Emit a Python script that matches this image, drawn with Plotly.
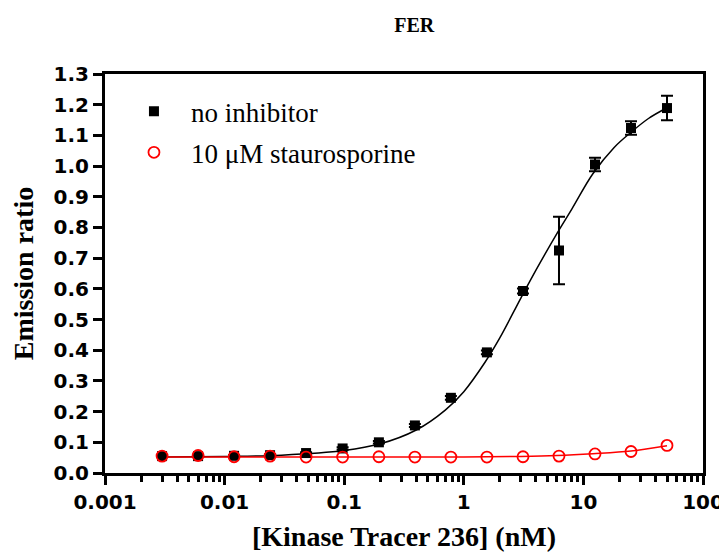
import plotly.graph_objects as go

# --- data ---
conc = [0.003, 0.006, 0.012, 0.024, 0.048, 0.097, 0.195, 0.39, 0.78, 1.56, 3.125, 6.25, 12.5, 25, 50]
no_inhibitor = [0.055, 0.055, 0.056, 0.058, 0.065, 0.080, 0.100, 0.155, 0.245, 0.393, 0.593, 0.725, 1.005, 1.124, 1.189]
no_inhibitor_err = [0.003, 0.003, 0.003, 0.003, 0.003, 0.004, 0.004, 0.005, 0.006, 0.006, 0.008, 0.11, 0.022, 0.022, 0.04]
stauro = [0.055, 0.057, 0.053, 0.055, 0.052, 0.052, 0.053, 0.052, 0.052, 0.052, 0.053, 0.055, 0.062, 0.070, 0.090]

# fitted curves
fit_x = [0.003, 0.01, 0.03, 0.1, 0.2, 0.4, 0.7, 1.0, 1.5, 2.0, 3.0, 4.0, 6.0, 8.0, 12.0, 18.0, 25.0, 35.0, 50.0]
fit_black = [0.052, 0.054, 0.058, 0.073, 0.095, 0.14, 0.205, 0.265, 0.36, 0.44, 0.57, 0.66, 0.78, 0.86, 0.975, 1.06, 1.11, 1.155, 1.19]
fit_red_x = [0.003, 0.1, 1.0, 3.0, 6.0, 12.0, 25.0, 50.0]
fit_red = [0.052, 0.052, 0.052, 0.054, 0.057, 0.063, 0.072, 0.089]

x_tickvals = [0.001, 0.01, 0.1, 1, 10, 100]
x_ticktext = ["0.001", "0.01", "0.1", "1", "10", "100"]
y_tickvals = [0.0, 0.1, 0.2, 0.3, 0.4, 0.5, 0.6, 0.7, 0.8, 0.9, 1.0, 1.1, 1.2, 1.3]
y_ticktext = ["%.1f" % v for v in y_tickvals]

fig = go.Figure()

fig.add_trace(go.Scatter(x=fit_x, y=fit_black, mode="lines", line=dict(color="black", width=1.5, shape="spline"),
                         showlegend=False, hoverinfo="skip"))
fig.add_trace(go.Scatter(x=fit_red_x, y=fit_red, mode="lines", line=dict(color="#ff0000", width=1.5, shape="spline"),
                         showlegend=False, hoverinfo="skip"))

fig.add_trace(go.Scatter(
    x=conc, y=no_inhibitor, mode="markers", name="no inhibitor", legendgroup="a",
    marker=dict(symbol="square", size=10, color="black"),
    error_y=dict(type="data", array=no_inhibitor_err, color="black", thickness=2, width=6),
))
fig.add_trace(go.Scatter(
    x=conc, y=stauro, mode="markers", name="10 μM staurosporine", legendgroup="b",
    marker=dict(symbol="circle-open", size=11, color="#ff0000", line=dict(width=1.8, color="#ff0000")),
))

tick_font = dict(family="DejaVu Sans", size=20, color="black", weight="bold")
title_font = dict(family="Liberation Serif, Times New Roman", size=28, color="black", weight="bold")

fig.update_layout(
    width=719, height=551,
    paper_bgcolor="white", plot_bgcolor="white",
    margin=dict(l=97, r=24, t=66, b=86, autoexpand=False),
    title=dict(text="FER", x=0.565, xanchor="center", y=0.969, yanchor="middle", automargin=False,
               font=dict(family="Liberation Serif, Times New Roman", size=20, color="black", weight="bold")),
    legend=dict(x=0.020, y=0.967, xanchor="left", yanchor="top", bgcolor="rgba(0,0,0,0)",
                font=dict(family="Liberation Serif, Times New Roman", size=27, color="black"),
                itemwidth=64, traceorder="grouped", tracegroupgap=3),
    showlegend=True,
)

fig.update_xaxes(
    type="log", range=[-3, 2], tickvals=x_tickvals, ticktext=x_ticktext,
    ticks="outside", ticklen=9, tickwidth=3, tickcolor="black",
    minor=dict(ticks="outside", ticklen=6, tickwidth=2.5, tickcolor="black", dtick="D1", showgrid=False),
    showline=True, linewidth=3, linecolor="black", mirror=True, automargin=False,
    showgrid=False, zeroline=False, tickfont=tick_font,
    title=dict(text="[Kinase Tracer 236] (nM)", font=title_font, standoff=14),
)
fig.update_yaxes(
    range=[0, 1.3], tickvals=y_tickvals, ticktext=y_ticktext,
    ticks="outside", ticklen=9, tickwidth=3, tickcolor="black",
    showline=True, linewidth=3, linecolor="black", mirror=True, automargin=False,
    showgrid=False, zeroline=False, tickfont=tick_font,
    title=dict(text="Emission ratio", font=title_font, standoff=20),
)

fig.write_html("out.html")
